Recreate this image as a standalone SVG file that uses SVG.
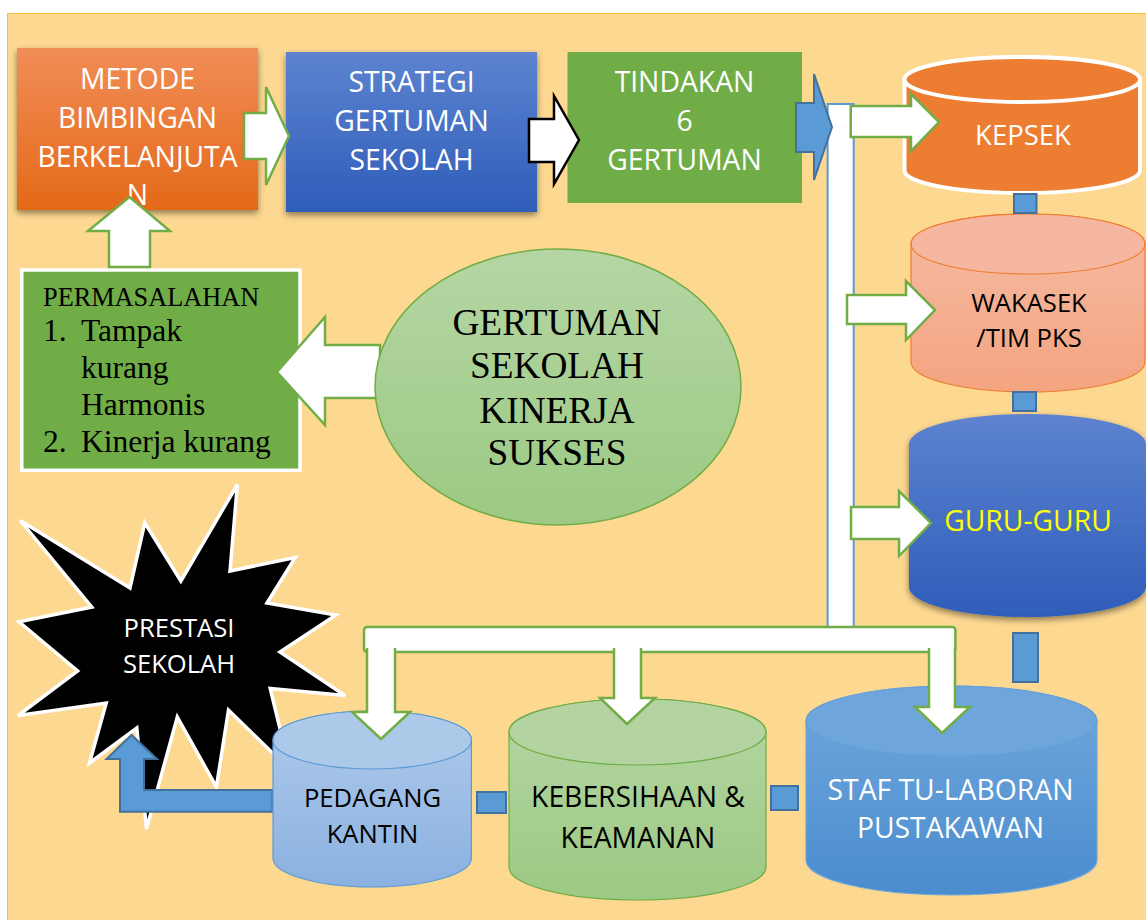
<svg xmlns="http://www.w3.org/2000/svg" width="1146" height="920" viewBox="0 0 1146 920">
<defs>
<style>
.s{font-family:"Open Sans","Noto Sans","Liberation Sans",sans-serif;text-anchor:middle}
.w{fill:#fff}
.k{fill:#000}
.t{font-family:"Liberation Serif","Times New Roman",serif;fill:#000}
.ga{fill:#fff;stroke:#70AD47;stroke-width:2.5;stroke-linejoin:miter}
.ba{fill:#5B9BD5;stroke:#41719C;stroke-width:2}
.bc{fill:#5B9BD5;stroke:#41719C;stroke-width:2}
</style>
<linearGradient id="gOr" x1="0" y1="0" x2="0" y2="1"><stop offset="0" stop-color="#F18D57"/><stop offset="1" stop-color="#E46918"/></linearGradient>
<linearGradient id="gBl" x1="0" y1="0" x2="0" y2="1"><stop offset="0" stop-color="#5D83D0"/><stop offset="1" stop-color="#2E5DB9"/></linearGradient>
<linearGradient id="gSal" x1="0" y1="0" x2="0" y2="1"><stop offset="0" stop-color="#F6BBA4"/><stop offset="1" stop-color="#F4A480"/></linearGradient>
<linearGradient id="gLb" x1="0" y1="0" x2="0" y2="1"><stop offset="0" stop-color="#AFCAEA"/><stop offset="1" stop-color="#8BB1E1"/></linearGradient>
<linearGradient id="gLg" x1="0" y1="0" x2="0" y2="1"><stop offset="0" stop-color="#B5D6A4"/><stop offset="1" stop-color="#9CC983"/></linearGradient>
<linearGradient id="gMb" x1="0" y1="0" x2="0" y2="1"><stop offset="0" stop-color="#71A8DD"/><stop offset="1" stop-color="#4A8CCE"/></linearGradient>
<filter id="sh" x="-10%" y="-10%" width="120%" height="130%"><feDropShadow dx="0" dy="3" stdDeviation="3" flood-color="#000" flood-opacity="0.45"/></filter>
</defs>

<rect x="0" y="0" width="1146" height="920" fill="#fff"/>
<rect x="7.5" y="13.5" width="1145" height="915" fill="#FDD891" stroke="#F2C037" stroke-width="1"/>

<g id="metode">
<rect x="17" y="48" width="241" height="162" fill="url(#gOr)" filter="url(#sh)"/>
<text class="s w" font-size="28.3" x="137.5" y="89">METODE</text>
<text class="s w" font-size="28.3" x="137.5" y="128">BIMBINGAN</text>
<text class="s w" font-size="28.3" x="137.5" y="166.5">BERKELANJUTA</text>
<text class="s w" font-size="28.3" x="137.5" y="205">N</text>
</g>

<g id="strategi">
<rect x="286" y="52" width="251" height="160" fill="url(#gBl)" filter="url(#sh)"/>
<text class="s w" font-size="28.3" x="411.5" y="92">STRATEGI</text>
<text class="s w" font-size="28.3" x="411.5" y="131">GERTUMAN</text>
<text class="s w" font-size="28.3" x="411.5" y="170">SEKOLAH</text>
</g>

<g id="tindakan">
<rect x="567.5" y="52" width="234.5" height="151" fill="#70AD47"/>
<text class="s w" font-size="28.3" x="684.5" y="92">TINDAKAN</text>
<text class="s w" font-size="28.3" x="684.5" y="131">6</text>
<text class="s w" font-size="28.3" x="684.5" y="170">GERTUMAN</text>
</g>

<g id="permasalahan">
<rect x="21.8" y="270" width="278.2" height="200.3" fill="#70AD47" stroke="#fff" stroke-width="3.5"/>
<text class="t" font-size="26.3" x="43" y="305.5">PERMASALAHAN</text>
<text class="t" font-size="31.5" x="43" y="340.5">1.</text>
<text class="t" font-size="31.5" x="81" y="340.5">Tampak</text>
<text class="t" font-size="31.5" x="81" y="378">kurang</text>
<text class="t" font-size="31.5" x="81" y="415">Harmonis</text>
<text class="t" font-size="31.5" x="43" y="452">2.</text>
<text class="t" font-size="31.5" x="81" y="452">Kinerja kurang</text>
</g>

<g id="connectors-back">
<polygon class="ga" points="380,345 325,345 325,317 277,372 325,425 325,398 380,398"/>
</g>

<g id="gertuman">
<ellipse cx="558" cy="387" rx="183" ry="138" fill="url(#gLg)" stroke="#70AD47" stroke-width="1.5"/>
<text class="t" font-size="37.3" x="557" y="335" text-anchor="middle">GERTUMAN</text>
<text class="t" font-size="37.3" x="557" y="378.3" text-anchor="middle">SEKOLAH</text>
<text class="t" font-size="37.3" x="557" y="422.5" text-anchor="middle">KINERJA</text>
<text class="t" font-size="37.3" x="557" y="464.5" text-anchor="middle">SUKSES</text>
</g>

<g id="kepsek">
<path d="M904.5,79.5 V170.5 A117.75,22.5 0 0 0 1140,170.5 V79.5 A117.75,22.5 0 0 0 904.5,79.5 Z" fill="#ED7D31" stroke="#fff" stroke-width="4"/>
<ellipse cx="1022.25" cy="79.5" rx="117.75" ry="22.5" fill="#ED7D31" stroke="#fff" stroke-width="4"/>
<text class="s w" font-size="27.5" x="1023" y="145">KEPSEK</text>
</g>

<g id="wakasek">
<path d="M911,244 V362 A117,30 0 0 0 1145,362 V244 A117,30 0 0 0 911,244 Z" fill="url(#gSal)" stroke="#ED7D31" stroke-width="1.2"/>
<ellipse cx="1028" cy="244" rx="117" ry="30" fill="#F5B7A0" stroke="#ED7D31" stroke-width="1.2"/>
<text class="s k" font-size="25.6" x="1029" y="312">WAKASEK</text>
<text class="s k" font-size="25.6" x="1029" y="347">/TIM PKS</text>
</g>

<g id="guru">
<path d="M909,444 V587 A118.5,30 0 0 0 1146,587 V444 A118.5,30 0 0 0 909,444 Z" fill="url(#gBl)" filter="url(#sh)"/>
<text class="s" font-size="28.3" fill="#FFFF00" x="1028" y="531">GURU-GURU</text>
</g>

<g id="prestasi">
<polygon points="237.4,484.5 230,571 295.3,557.5 267,603 336,615 280,652 345,695.5 270.2,688.5 290,770 228.5,710 216.4,787 177.3,717 146.5,829 136.8,728 89.5,763 106.2,703 18.1,715.5 77.6,671 19,621.8 91.8,607 20.2,520.5 130,588 144.8,522.8 180.9,581" fill="#000" stroke="#fff" stroke-width="3.5" stroke-linejoin="miter"/>
<text class="s w" font-size="25.6" x="179" y="637">PRESTASI</text>
<text class="s w" font-size="25.6" x="179" y="673">SEKOLAH</text>
</g>

<g id="connectors-mid">
<polygon class="ba" points="272.5,790 144,790 144,759 157,759 131.5,735 106.5,759 120,759 120,811.7 272.5,811.7"/>
</g>

<g id="pedagang">
<path d="M273,740 V858 A99.2,29 0 0 0 471.4,858 V740 A99.2,29 0 0 0 273,740 Z" fill="url(#gLb)" stroke="#5B9BD5" stroke-width="1.2"/>
<ellipse cx="372.2" cy="740" rx="99.2" ry="29" fill="#ADC9E9" stroke="#5B9BD5" stroke-width="1.2"/>
<text class="s k" font-size="25.6" x="372.5" y="807">PEDAGANG</text>
<text class="s k" font-size="25.6" x="372.5" y="843">KANTIN</text>
</g>

<g id="kebersihaan">
<path d="M509,732 V867 A128.5,33 0 0 0 766,867 V732 A128.5,33 0 0 0 509,732 Z" fill="url(#gLg)" stroke="#70AD47" stroke-width="1.2"/>
<ellipse cx="637.5" cy="732" rx="128.5" ry="33" fill="#B3D4A1" stroke="#70AD47" stroke-width="1.2"/>
<text class="s k" font-size="28.3" x="638" y="807">KEBERSIHAAN &amp;</text>
<text class="s k" font-size="28.3" x="638" y="848">KEAMANAN</text>
</g>

<g id="staf">
<path d="M806,721 V860 A145.5,35 0 0 0 1097,860 V721 A145.5,35 0 0 0 806,721 Z" fill="url(#gMb)" stroke="#6FA6DB" stroke-width="1.2"/>
<ellipse cx="951.5" cy="721" rx="145.5" ry="35" fill="#6EA6DC" stroke="#62A0DA" stroke-width="1.2"/>
<text class="s w" font-size="28.3" x="950.5" y="800">STAF TU-LABORAN</text>
<text class="s w" font-size="28.3" x="950.5" y="838">PUSTAKAWAN</text>
</g>

<g id="connectors">
<rect class="bc" x="1014" y="194" width="22.5" height="19"/>
<rect class="bc" x="1013" y="392" width="23" height="19"/>
<rect class="bc" x="1013" y="633" width="25" height="49"/>
<rect class="bc" x="477" y="792" width="29" height="21"/>
<rect class="bc" x="771" y="786" width="27" height="24"/>

<rect x="827.6" y="104" width="26.1" height="523" fill="#fff" stroke="#5B9BD5" stroke-width="2"/>
<rect x="364" y="627" width="591.4" height="25" rx="3" fill="#fff" stroke="#70AD47" stroke-width="2.5"/>
<path class="ga" d="M367,648 L367,712 L352,712 L381,739 L410,712 L395,712 L395,648"/>
<path class="ga" d="M614,648 L614,698 L600,698 L627,724 L655,698 L641,698 L641,648"/>
<path class="ga" d="M929,648 L929,707 L915,707 L942,733 L970,707 L955,707 L955,648"/>

<polygon class="ga" points="850.7,106 911,106 911,94 939,122 911,151 911,137 850.7,137"/>
<polygon class="ga" points="847,295 906,295 906,281 935,310 906,340 906,324 847,324"/>
<polygon class="ga" points="851,507 899,507 899,491 931,523 899,556 899,539 851,539"/>

<polygon class="ba" points="796,103 814,103 814,74 832,127 814,180 814,152 796,152"/>
<polygon class="ga" points="244,113 266,113 266,87 289,136 266,185 266,159 244,159"/>
<polygon points="529,119 554,119 554,96 579,140 554,184 554,162 529,162" fill="#fff" stroke="#000" stroke-width="2.5"/>
<polygon class="ga" points="109,267 109,231 88,231 129.5,197 170,231 150,231 150,267"/>
</g>
</svg>
